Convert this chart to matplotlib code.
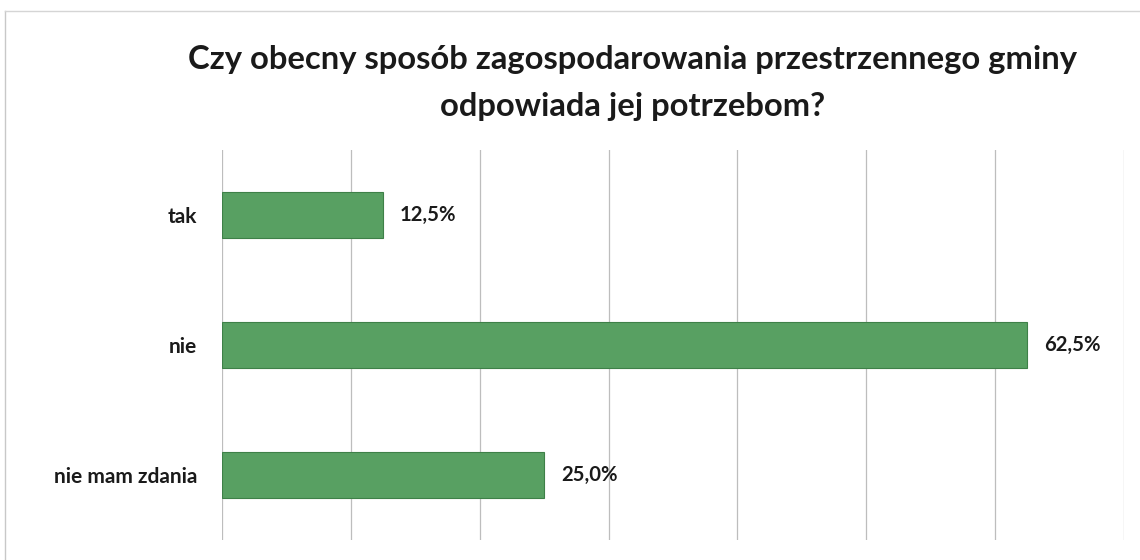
import matplotlib
matplotlib.use("Agg")
import matplotlib.pyplot as plt
from matplotlib.lines import Line2D

categories = ["tak", "nie", "nie mam zdania"]
values = [12.5, 62.5, 25.0]
value_labels = ["12,5%", "62,5%", "25,0%"]
title_lines = ["Czy obecny sposób zagospodarowania przestrzennego gminy",
               "odpowiada jej potrzebom?"]

plt.rcParams['font.family'] = ['Lato', 'DejaVu Sans']

fig = plt.figure(figsize=(11.4, 5.6), dpi=100)
ax = fig.add_axes([222/1140, 20/560, (1124-222)/1140, 390/560])

y = list(range(len(categories)))
ax.barh(y, values, height=0.35, color="#58a062", edgecolor="#3e8048", linewidth=0.8, zorder=3)
ax.set_ylim(len(categories) - 0.5, -0.5)
ax.set_xlim(0, 70)
ax.set_xticks(range(0, 71, 10))
ax.grid(axis="x", color="#bdbdbd", linewidth=0.9, zorder=0)
ax.tick_params(axis="x", length=0, labelbottom=False)
ax.tick_params(axis="y", length=0, pad=18)
ax.set_yticks(y)
ax.set_yticklabels(categories, fontsize=15, fontweight="bold", color="#1a1a1a")
for s in ax.spines.values():
    s.set_visible(False)

for yi, v, lab in zip(y, values, value_labels):
    ax.annotate(lab, (v, yi), xytext=(12, 0), textcoords="offset points",
                va="center", ha="left", fontsize=14.6, fontweight="bold", color="#1a1a1a")

for line, base in zip(title_lines, [69, 116]):
    fig.text(633/1140, 1 - base/560, line, ha="center", va="baseline", fontsize=23.6,
             fontweight="bold", color="#1a1a1a")

# outer frame lines (left and top)
fig.add_artist(Line2D([5/1140, 5/1140], [0, 1 - 11/560], color="#c8c8c8", linewidth=1.0))
fig.add_artist(Line2D([5/1140, 1], [1 - 11/560, 1 - 11/560], color="#d5d5d5", linewidth=1.0))

fig.savefig("out.png", dpi=100, facecolor="white")
